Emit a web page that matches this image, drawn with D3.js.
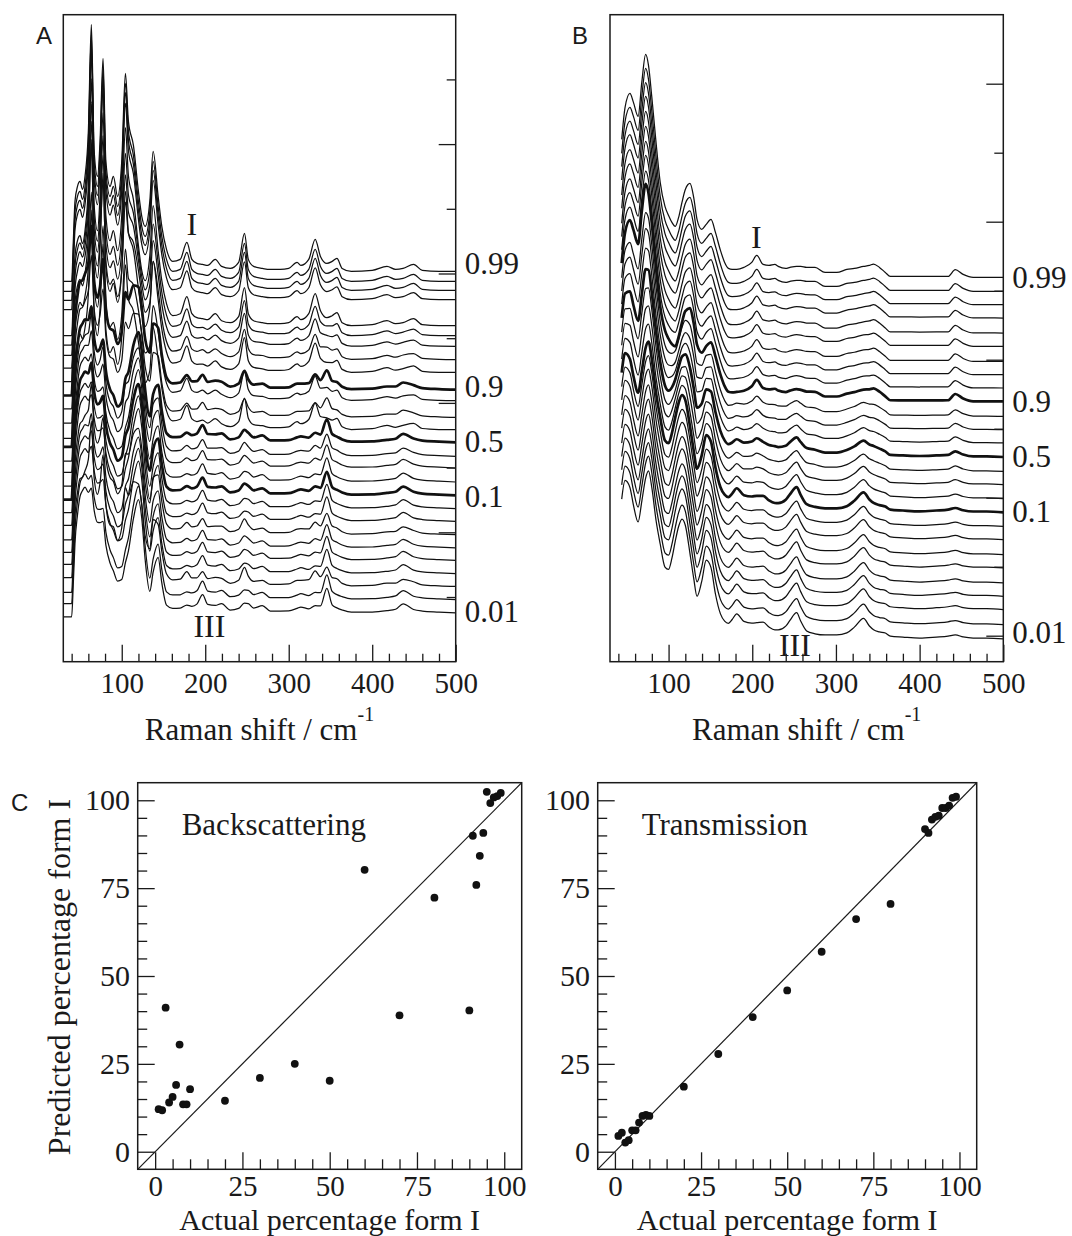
<!DOCTYPE html>
<html><head><meta charset="utf-8">
<script src="https://cdn.jsdelivr.net/npm/d3@7"></script>
<style>body{margin:0;background:#fff}</style>
</head><body>
<svg id="chart" width="1072" height="1236"></svg>
<script>
// ---------------- DATA ----------------
// Mixtures (fraction of form I), top curve to bottom curve
const mixtures = ["0.99","0.98","0.97","0.96","0.95","0.94","0.93","0.92","0.91","0.9","0.8","0.7","0.6","0.5","0.4","0.3","0.2","0.1","0.09","0.08","0.07","0.06","0.05","0.04","0.03","0.02","0.01"];
const labelledMixtures = ["0.99","0.9","0.5","0.1","0.01"];
const boldMixtures = ["0.9","0.5","0.1"];

// Panel A (backscattering) spectra: Raman shift grid, pure form I and form III profiles (arb. counts, relative to 500 cm-1)
const ramanA = [30,40,42,44,47,50,53,56,60,63.6,67,71,74,77.6,81,86,90,95,100,104.4,108,114,120,124,128,133.6,137.6,143.6,148,153.6,161,170,178,184,190,196.8,203,212,219.6,230,240,247,251.6,258,268.4,278,290,300,310,314.5,324,331.7,338,345.7,352,357.7,364,375,400,417.7,428,437,449.5,460,480,500];
const formIA = [-10,-10,30,70,85,90,82,95,140,247,120,95,130,213,110,85,95,75,110,198,150,126,80,55,45,70,120,75,45,22,10,12,29,12,8,7,6,12,5,3,9,38,12,5,3,2,2,3,9,6,12,32,15,8,10,13,3,0,1,5,2,3,7,1,0,0];
const formIIIA = [-3,-3,30,70,100,120,128,130,118,108,100,90,85,75,62,45,35,26,23,30,50,90,118,100,55,15,30,53,28,6,4,4,5,6,9,20,9,7,10,3,4,6,9,5,8,2,2,2,4,6,3,4,6,27,8,4,3,1,1,2,4,10,3,2,1,0];
const baselineA = [390.3,380.3,371.3,362,336,326,315.3,302,289.3,272,261,244.3,232,219.3,205.3,193.7,179.7,166.3,153,140.3,127,113.7,101.3,88,75.3,62,48.7];

// Panel B (transmission) spectra
const ramanB = [44,48,53.8,58,63.6,68,72.6,76,80,85,90,95.7,100,104,108,112,116,120,125.6,130,134,139.6,145,150.7,156,162,167,171.5,176,181.4,190,199.4,205.4,213,220,227,231,240,245,253,258,265,275,287,301,313,322,333,340,345,352,359,365,380,400,420,434,442.6,452,464,480,500];
const formIB = [138,170,184,175,161,195,223,212,180,135,95,71,62,55,51,60,75,88,94,80,58,48,53,58,45,27,15,9,8,8,10,15,22,13,12,13,11,9,10,11,11,10,10,5,5,8,9,11,12,13.4,10,5,1,1,1,1,1,7.7,3,0,0,0];
const formIIIB = [140,158,150,132,115,135,158,166,150,118,95,72,70,82,100,115,122,115,85,60,42,58,80,72,45,25,18,16,20,26,18,16,16,17,12,9,9,13,19,27,18,8,5,4,4,6,12,21,13,9,7,6,3,2,1,2,3,4,2,1,1,0];
const baselineB = [358.3,344.3,331,317.7,302.7,289.3,274.3,261,247.7,234.3,219.3,206,192.7,178.7,164.3,151,137,123.3,109.3,96,81,67.7,52.7,39.3,26,11,-3.3];

// Panel C: quantitative predictions
const actualPct = [1,2,3,4,5,6,7,8,9,10,20,30,40,50,60,70,80,90,91,92,93,94,95,96,97,98,99];
const predictedBack = [12.1,11.8,41,14,15.6,19,30.5,13.5,13.5,17.8,14.5,21,25,20.2,80.2,38.8,72.3,40.2,89.9,75.9,84.2,90.7,102.4,99.2,100.8,101.2,102.1];
const predictedTrans = [4.5,5.4,2.6,3.3,6.1,6.1,8.3,10.2,10.5,10.2,18.5,27.8,38.3,45.9,56.9,66.2,70.5,91.8,90.7,94.5,95.3,95.6,97.8,97.8,98.5,100.7,101];

// Tick values
const ramanMajorTicks = [100,200,300,400,500];
const ramanMinorTicks = [40,60,80,120,140,160,180,220,240,260,280,320,340,360,380,420,440,460,480];
const intensityMajorA = [129.4,258.8,388.2,517.6];
const intensityMinorA = [64.7,194.1,323.5,452.9,582.3];
const intensityMajorB = [0,138,276,414,552];
const intensityMinorB = [69,207,345,483];
const pctMajorTicks = [0,25,50,75,100];
const pctMinorTicks = [5,10,15,20,30,35,40,45,55,60,65,70,80,85,90,95];
const identityLine = [-5,105];

// ---------------- DRAW ----------------
const svg = d3.select("#chart");
const serif = '"Liberation Serif","Times New Roman",serif';
const sans = '"Liberation Sans",Arial,sans-serif';
const ink = "#1a1a1a";

function styleAxis(g, size){
  g.select(".domain").remove();
  g.selectAll(".tick line").attr("stroke", ink).attr("stroke-width", 1.3);
  g.attr("font-family", serif).attr("font-size", size).selectAll("text").attr("fill", ink);
}

function spectraPanel(cfg){
  const {L,R,T,B,yDom,raman,formI,formIII,base,pred,majY,minY,id,labelShift} = cfg;
  const x = d3.scaleLinear().domain([30,500]).range([L,R]);
  const y = d3.scaleLinear().domain(yDom).range([B,T]);
  svg.append("clipPath").attr("id","clip"+id).append("rect")
    .attr("x",L).attr("y",T).attr("width",R-L).attr("height",B-T);
  const line = d3.line().x(d=>x(d.r)).y(d=>y(d.v)).curve(d3.curveMonotoneX);
  const g = svg.append("g").attr("clip-path","url(#clip"+id+")");
  mixtures.forEach((m,i)=>{
    const j = actualPct.indexOf(Math.round(+m*100));
    const w = Math.max(0, Math.min(1, pred[j]/100));
    const pts = raman.map((r,k)=>({r, v: base[i] + w*formI[k] + (1-w)*formIII[k]}));
    g.append("path").datum(pts).attr("d", line)
      .attr("fill","none").attr("stroke","#111")
      .attr("stroke-width", boldMixtures.includes(m) ? 2.7 : 1.25)
      .attr("stroke-linejoin","round");
  });
  // right labels
  mixtures.forEach((m,i)=>{
    if(!labelledMixtures.includes(m)) return;
    svg.append("text").attr("x", R+9).attr("y", y(base[i]) + (labelShift[m]||0)).attr("dy","0.35em")
      .attr("font-family", serif).attr("font-size", 31).attr("fill", ink).text(m);
  });
  // bottom axis
  const gx = svg.append("g").attr("transform",`translate(0,${B})`)
    .call(d3.axisBottom(x).tickValues(ramanMajorTicks).tickSize(-17).tickPadding(11).tickFormat(d3.format("d")));
  styleAxis(gx, 29);
  const gx2 = svg.append("g").attr("transform",`translate(0,${B})`)
    .call(d3.axisBottom(x).tickValues(ramanMinorTicks).tickSize(-8).tickFormat(""));
  styleAxis(gx2, 29);
  // right axis (inward ticks)
  const gy = svg.append("g").attr("transform",`translate(${R},0)`)
    .call(d3.axisLeft(y).tickValues(majY).tickSize(17).tickFormat(""));
  styleAxis(gy, 29);
  const gy2 = svg.append("g").attr("transform",`translate(${R},0)`)
    .call(d3.axisLeft(y).tickValues(minY).tickSize(9).tickFormat(""));
  styleAxis(gy2, 29);
  // frame
  svg.append("rect").attr("x",L).attr("y",T).attr("width",R-L).attr("height",B-T)
    .attr("fill","none").attr("stroke",ink).attr("stroke-width",1.5);
  // axis title
  const t = svg.append("text").attr("x",(L+R)/2).attr("y",740).attr("text-anchor","middle")
    .attr("font-family",serif).attr("font-size",31).attr("fill",ink);
  t.append("tspan").text("Raman shift / cm");
  t.append("tspan").attr("dy",-19).attr("font-size",20).text("-1");
  return {x,y};
}

// Panel A
const pA = spectraPanel({id:"A",L:63.3,R:455.7,T:14.7,B:661.7,yDom:[0,647],raman:ramanA,formI:formIA,formIII:formIIIA,base:baselineA,pred:predictedBack,majY:intensityMajorA,minY:intensityMinorA,labelShift:{"0.99":-8,"0.9":-4,"0.5":-1,"0.1":1,"0.01":-2}});
svg.append("text").attr("x",pA.x(184)).attr("y",235).attr("text-anchor","middle").attr("font-family",serif).attr("font-size",32).attr("fill",ink).text("I");
svg.append("text").attr("x",pA.x(205)).attr("y",637).attr("text-anchor","middle").attr("font-family",serif).attr("font-size",32).attr("fill",ink).text("III");
svg.append("text").attr("x",36).attr("y",44).attr("font-family",sans).attr("font-size",24).attr("fill",ink).text("A");

// Panel B
const pB = spectraPanel({id:"B",L:610,R:1003.3,T:14.7,B:661.7,yDom:[-26,621],raman:ramanB,formI:formIB,formIII:formIIIB,base:baselineB,pred:predictedTrans,majY:intensityMajorB,minY:intensityMinorB,labelShift:{"0.99":0,"0.9":0,"0.5":-1,"0.1":-1,"0.01":-7}});
svg.append("text").attr("x",pB.x(205)).attr("y",248).attr("text-anchor","middle").attr("font-family",serif).attr("font-size",32).attr("fill",ink).text("I");
svg.append("text").attr("x",pB.x(251)).attr("y",656).attr("text-anchor","middle").attr("font-family",serif).attr("font-size",32).attr("fill",ink).text("III");
svg.append("text").attr("x",572).attr("y",44).attr("font-family",sans).attr("font-size",24).attr("fill",ink).text("B");

// Panel C
function scatterPanel(cfg){
  const {L,R,T,B,pred,title,titleX,id} = cfg;
  const x = d3.scaleLinear().domain([-5,105]).range([L,R]);
  const y = d3.scaleLinear().domain([-5,105]).range([B,T]);
  svg.append("clipPath").attr("id","clip"+id).append("rect")
    .attr("x",L).attr("y",T).attr("width",R-L).attr("height",B-T);
  svg.append("line").attr("clip-path","url(#clip"+id+")")
    .attr("x1",x(identityLine[0])).attr("y1",y(identityLine[0]))
    .attr("x2",x(identityLine[1])).attr("y2",y(identityLine[1]))
    .attr("stroke",ink).attr("stroke-width",1.2);
  const gx = svg.append("g").attr("transform",`translate(0,${B})`)
    .call(d3.axisBottom(x).tickValues(pctMajorTicks).tickSize(-17).tickPadding(6).tickFormat(d3.format("d")));
  styleAxis(gx, 29);
  const gx2 = svg.append("g").attr("transform",`translate(0,${B})`)
    .call(d3.axisBottom(x).tickValues(pctMinorTicks).tickSize(-10).tickFormat(""));
  styleAxis(gx2, 29);
  const gy = svg.append("g").attr("transform",`translate(${L},0)`)
    .call(d3.axisLeft(y).tickValues(pctMajorTicks).tickSize(-17).tickPadding(7.7).tickFormat(d3.format("d")));
  styleAxis(gy, 30);
  const gy2 = svg.append("g").attr("transform",`translate(${L},0)`)
    .call(d3.axisLeft(y).tickValues(pctMinorTicks).tickSize(-9.5).tickFormat(""));
  styleAxis(gy2, 30);
  svg.append("g").selectAll("circle").data(actualPct).join("circle")
    .attr("cx",d=>x(d)).attr("cy",(d,i)=>y(pred[i])).attr("r",3.9).attr("fill","#111");
  svg.append("rect").attr("x",L).attr("y",T).attr("width",R-L).attr("height",B-T)
    .attr("fill","none").attr("stroke",ink).attr("stroke-width",1.5);
  svg.append("text").attr("x",titleX).attr("y",835).attr("font-family",serif).attr("font-size",31).attr("fill",ink).text(title);
  svg.append("text").attr("x",(L+R)/2).attr("y",1229.5).attr("text-anchor","middle")
    .attr("font-family",serif).attr("font-size",30).attr("fill",ink).text("Actual percentage form I");
  return {x,y};
}
scatterPanel({id:"C1",L:137.7,R:521.7,T:782.7,B:1169.3,pred:predictedBack,title:"Backscattering",titleX:181.7});
scatterPanel({id:"C2",L:597.7,R:976.7,T:782.7,B:1169.3,pred:predictedTrans,title:"Transmission",titleX:641.7});
svg.append("text").attr("transform","translate(70,977) rotate(-90)").attr("text-anchor","middle")
  .attr("font-family",serif).attr("font-size",32).attr("fill",ink).text("Predicted percentage form I");
svg.append("text").attr("x",11).attr("y",811).attr("font-family",sans).attr("font-size",24).attr("fill",ink).text("C");
</script>
</body></html>
